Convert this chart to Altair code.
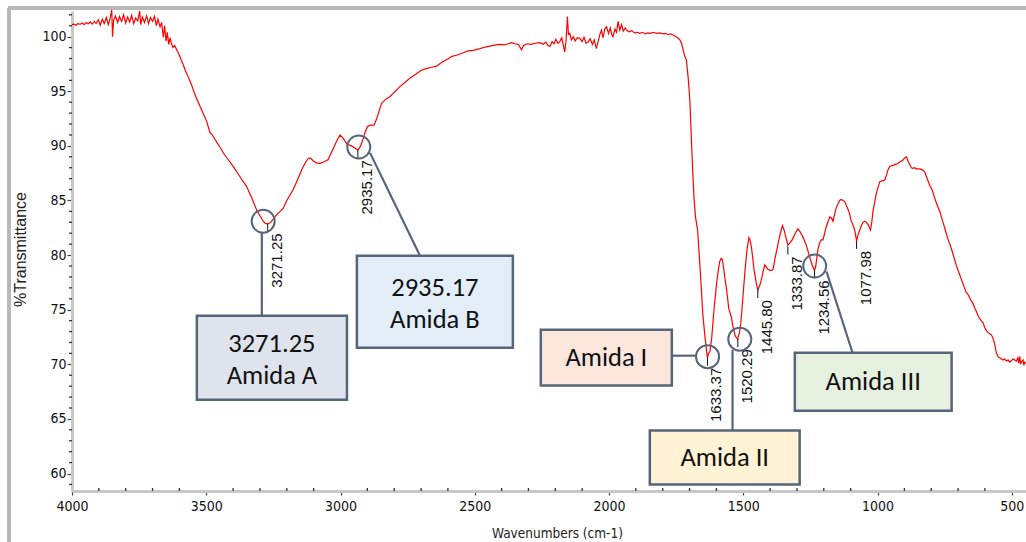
import altair as alt
import pandas as pd

# ---------------- spectrum ----------------
wavenumber = [
    4000, 3992, 3985, 3977, 3970, 3962, 3955, 3947, 3940, 3932, 3925, 3917, 3910, 3902, 3895, 3887,
    3880, 3872, 3865, 3858, 3852, 3849, 3845, 3838, 3830, 3823, 3815, 3808, 3800, 3793, 3785, 3778,
    3770, 3763, 3755, 3748, 3744, 3738, 3730, 3722, 3715, 3708, 3700, 3693, 3686, 3680, 3672, 3666,
    3660, 3655, 3650, 3645, 3640, 3635, 3630, 3624, 3618, 3610, 3600, 3592, 3586, 3578, 3570, 3562,
    3555, 3545, 3535, 3523, 3510, 3498, 3486, 3480, 3470, 3460, 3449, 3435, 3420, 3399, 3375, 3350,
    3330, 3312, 3300, 3288, 3280, 3271.25, 3262, 3250, 3238, 3225, 3213, 3200, 3188, 3176, 3160, 3145,
    3130, 3120, 3113, 3100, 3090, 3077, 3060, 3046, 3030, 3015, 3002, 2990, 2977, 2960, 2946, 2935.17,
    2925, 2915, 2909, 2900, 2890, 2875, 2865, 2855, 2847, 2830, 2816, 2800, 2780, 2760, 2742, 2720,
    2700, 2679, 2660, 2642, 2620, 2600, 2585, 2568, 2545, 2525, 2505, 2481, 2460, 2440, 2420, 2407,
    2390, 2375, 2363, 2350, 2338, 2326, 2318, 2305, 2290, 2275, 2258, 2245, 2235, 2228, 2220, 2212,
    2205, 2198, 2190, 2183, 2176, 2170, 2165, 2160, 2155, 2151, 2146, 2140, 2133, 2126, 2118, 2109,
    2100, 2093, 2086, 2078, 2070, 2062, 2055, 2047, 2040, 2034, 2028, 2022, 2016, 2009, 2002, 1995,
    1990, 1985, 1978, 1972, 1966, 1960, 1953, 1947, 1940, 1935, 1925, 1915, 1905, 1895, 1885, 1875,
    1865, 1855, 1845, 1835, 1823, 1810, 1800, 1790, 1780, 1770, 1761, 1750, 1742, 1736, 1730, 1724,
    1718, 1712, 1705, 1699, 1693, 1687, 1683, 1678, 1670, 1664, 1658, 1651, 1643, 1638, 1633.37, 1629,
    1624, 1618, 1613, 1608, 1603, 1598, 1593, 1588, 1582, 1578, 1573, 1569, 1563, 1558, 1554, 1549,
    1545, 1540, 1536, 1530, 1524, 1520.29, 1517, 1514, 1509, 1504, 1498, 1492, 1486, 1479, 1475, 1470,
    1465, 1460, 1452, 1445.8, 1439, 1433, 1426, 1420, 1414, 1408, 1400, 1395, 1389, 1380, 1370, 1362,
    1354, 1348, 1341, 1333.87, 1327, 1320, 1314, 1308, 1302, 1296, 1290, 1283, 1277, 1270, 1264, 1258,
    1250, 1242, 1234.56, 1230, 1227, 1222, 1216, 1210, 1203, 1197, 1191, 1184, 1178, 1172, 1166, 1160,
    1154, 1147, 1141, 1135, 1128, 1122, 1117, 1110, 1104, 1099, 1092, 1085, 1077.98, 1072, 1066, 1060,
    1054, 1048, 1042, 1035, 1030, 1026, 1021, 1017, 1010, 1004, 998, 992, 985, 979, 973, 967,
    961, 955, 948, 942, 936, 930, 924, 918, 912, 905, 899, 892, 886, 880, 874, 868,
    862, 856, 849, 843, 837, 830, 824, 818, 812, 806, 799, 793, 787, 781, 775, 768,
    762, 756, 750, 744, 738, 731, 725, 719, 713, 707, 700, 694, 688, 682, 676, 670,
    663, 657, 651, 645, 639, 633, 626, 620, 614, 607, 601, 595, 588, 582, 576, 570,
    564, 557, 551, 545, 539, 533, 527, 520, 514, 508, 502, 495, 489, 483, 477, 474,
    470, 467, 464, 458, 455, 452, 448,
]
transmittance = [
    101.10, 101.15, 101.05, 101.20, 101.12, 101.25, 101.10, 101.30, 101.18, 101.35, 101.15, 101.40, 101.20, 101.55, 101.05, 101.60,
    101.20, 101.75, 101.10, 101.70, 102.45, 100.00, 101.50, 101.90, 101.30, 101.85, 101.40, 102.00, 101.25, 101.80, 101.35, 101.95,
    101.20, 101.70, 101.45, 102.35, 101.10, 101.80, 101.30, 101.90, 101.20, 101.75, 101.40, 101.85, 101.00, 101.60, 100.90, 101.30,
    99.95, 101.00, 99.60, 100.40, 99.30, 99.90, 99.40, 99.00, 99.20, 98.80, 98.30, 97.80, 97.45, 96.90, 96.50, 96.00,
    95.60, 94.90, 94.30, 93.60, 92.90, 92.20, 91.20, 91.10, 90.70, 90.30, 89.90, 89.30, 88.80, 88.10, 87.20, 86.30,
    85.20, 84.10, 83.60, 83.10, 82.90, 82.85, 82.95, 83.30, 83.70, 84.00, 84.30, 85.00, 85.50, 86.00, 86.90, 87.80,
    88.50, 88.85, 88.90, 88.60, 88.45, 88.40, 88.55, 88.75, 89.60, 90.40, 91.00, 90.70, 90.20, 90.00, 89.80, 89.60,
    90.00, 90.70, 91.20, 91.75, 91.90, 91.90, 92.50, 93.30, 93.90, 94.30, 94.50, 94.90, 95.40, 95.80, 96.20, 96.55,
    96.90, 97.10, 97.20, 97.30, 97.70, 97.95, 98.20, 98.30, 98.50, 98.70, 98.75, 98.90, 99.05, 99.15, 99.25, 99.30,
    99.25, 99.35, 99.45, 99.35, 99.30, 98.80, 99.20, 99.35, 99.30, 99.40, 99.45, 99.30, 99.50, 99.20, 99.10, 99.55,
    99.35, 99.75, 99.40, 99.55, 99.90, 99.20, 98.60, 99.60, 101.85, 100.20, 100.30, 99.70, 100.00, 99.60, 99.90, 99.85,
    99.55, 99.95, 99.40, 99.50, 99.80, 99.30, 99.70, 98.90, 99.60, 100.20, 100.60, 99.90, 100.70, 100.90, 100.30, 100.80,
    100.20, 100.00, 100.70, 100.40, 101.40, 100.60, 101.10, 100.50, 100.80, 100.60, 100.45, 100.55, 100.35, 100.40, 100.30, 100.40,
    100.25, 100.35, 100.30, 100.40, 100.30, 100.35, 100.25, 100.30, 100.20, 100.25, 100.15, 100.00, 99.85, 99.70, 99.40, 98.80,
    98.20, 97.90, 96.20, 94.20, 90.50, 87.00, 85.10, 83.50, 82.30, 80.00, 77.70, 74.70, 72.60, 71.50, 70.60, 71.00,
    71.20, 72.30, 73.80, 75.30, 76.50, 77.70, 78.60, 79.40, 79.70, 79.60, 78.80, 78.00, 77.00, 76.00, 75.10, 74.70,
    74.40, 73.70, 73.20, 72.60, 72.40, 72.30, 72.70, 72.90, 73.80, 75.30, 77.20, 79.00, 80.50, 81.60, 81.40, 80.80,
    79.80, 78.70, 77.50, 76.80, 77.20, 77.70, 78.50, 79.10, 78.90, 78.70, 78.60, 78.60, 78.70, 79.90, 81.10, 82.00,
    82.70, 82.30, 81.60, 80.90, 81.10, 81.30, 81.60, 81.90, 82.20, 82.40, 82.20, 81.90, 81.60, 81.20, 80.80, 80.30,
    79.60, 79.00, 78.60, 79.00, 79.60, 80.50, 81.10, 81.40, 81.40, 82.00, 82.60, 83.10, 83.50, 83.40, 83.10, 83.70,
    84.30, 84.70, 85.00, 85.10, 85.00, 84.90, 84.60, 84.20, 83.80, 83.20, 82.80, 82.30, 81.30, 81.90, 82.30, 82.70,
    83.00, 83.10, 83.00, 82.80, 82.50, 82.30, 83.10, 84.00, 84.90, 85.70, 86.20, 86.70, 86.80, 86.80, 86.90, 87.30,
    87.80, 88.10, 88.20, 88.20, 88.30, 88.30, 88.40, 88.50, 88.60, 88.70, 88.90, 89.00, 88.60, 88.30, 88.00, 87.95,
    88.00, 87.90, 87.90, 87.90, 87.85, 87.75, 87.60, 87.20, 86.80, 86.40, 86.10, 85.70, 85.20, 84.80, 84.40, 84.00,
    83.50, 83.00, 82.50, 82.00, 81.50, 81.00, 80.60, 80.10, 79.60, 79.10, 78.60, 78.20, 77.80, 77.40, 77.00, 76.60,
    76.40, 76.10, 75.80, 75.60, 75.20, 74.90, 74.50, 74.20, 74.00, 73.80, 73.40, 73.10, 72.90, 72.80, 72.70, 72.40,
    71.90, 71.00, 70.70, 70.60, 70.50, 70.40, 70.50, 70.30, 70.40, 70.20, 70.30, 70.50, 70.40, 70.30, 70.60, 70.10,
    70.70, 70.00, 70.20, 70.40, 69.90, 70.20, 70.10,
]

# ---------------- peak markers ----------------
peak_wn = [3271.25, 2935.17, 1633.37, 1520.29, 1445.80, 1333.87, 1234.56, 1077.98]
peak_t = [82.9, 89.6, 70.6, 72.3, 76.8, 80.8, 78.6, 81.3]
peak_text = ["3271.25", "2935.17", "1633.37", "1520.29", "1445.80", "1333.87", "1234.56", "1077.98"]

# ---------------- annotation callouts ----------------
circle_wn = [3288, 2932, 1633, 1513, 1234]
circle_t = [83.1, 89.9, 70.7, 72.3, 79.0]

box_text = ["3271.25\nAmida A", "2935.17\nAmida B", "Amida I", "Amida II", "Amida III"]
box_lines = [2, 2, 1, 1, 1]
box_x1 = [3535, 2939, 2254, 1848, 1308]
box_x2 = [2976, 2358, 1766, 1290, 724]
box_y1 = [74.45, 79.94, 73.17, 63.93, 71.06]
box_y2 = [66.76, 71.52, 68.05, 58.99, 65.75]
box_fill = ["#dee3ec", "#e3edf8", "#fbe6dc", "#fff2d5", "#e5f0df"]

conn_x1 = [3293, 2890, 1766, 1540, 1190]
conn_y1 = [82.0, 89.36, 70.79, 71.33, 78.5]
conn_x2 = [3293, 2704, 1677, 1540, 1093]
conn_y2 = [74.45, 79.94, 70.79, 63.93, 71.06]

x_major = [4000, 3500, 3000, 2500, 2000, 1500, 1000, 500]
x_minor = [v for v in range(500, 4001, 100) if v % 500]
y_major = [60, 65, 70, 75, 80, 85, 90, 95, 100]
y_minor = [v for v in range(59, 103) if v % 5]

# ---------------- tables ----------------
spec = pd.DataFrame({"w": wavenumber, "t": transmittance})
spec["idx"] = range(len(spec))
peaks = pd.DataFrame({"w": peak_wn, "t": peak_t, "label": peak_text})
circles = pd.DataFrame({"w": circle_wn, "t": circle_t})
boxes = pd.DataFrame({"x1": box_x1, "x2": box_x2, "y1": box_y1, "y2": box_y2,
                      "label": box_text, "fill": box_fill, "n": box_lines})
boxes["xm"] = (boxes.x1 + boxes.x2) / 2
boxes["ym"] = (boxes.y1 + boxes.y2) / 2
conns = pd.DataFrame({"x1": conn_x1, "x2": conn_x2, "y1": conn_y1, "y2": conn_y2})
xminor_df = pd.DataFrame({"w": x_minor})
yminor_df = pd.DataFrame({"t": y_minor})

NARROW = "'Liberation Sans Narrow', 'Arial Narrow', 'DejaVu Sans Condensed', sans-serif"
REG = "'Liberation Sans', Arial, sans-serif"
SLATE = "#56657a"

xs = alt.Scale(domain=[4000, 447], nice=False, zero=False)
ys = alt.Scale(domain=[58.4, 102.35], nice=False, zero=False)

x_axis = alt.Axis(values=x_major, format="d", title="Wavenumbers (cm-1)", orient="bottom",
                  labelFont=NARROW, labelFontSize=14, labelColor="#111", labelFlush=False,
                  labelPadding=4, tickSize=4, tickColor="#444", tickWidth=1.2,
                  domainColor="#c8c8c8", domainWidth=3, grid=False,
                  titleFont=NARROW, titleFontSize=13.5, titleFontWeight="normal", titleColor="#222",
                  titleX=485, titleY=46, titleAlign="center", titleBaseline="alphabetic")
y_axis = alt.Axis(values=y_major, title="%Transmittance", orient="left",
                  labelFont=NARROW, labelFontSize=14, labelColor="#111", labelPadding=1,
                  tickSize=5, tickColor="#444", tickWidth=1.2,
                  domainColor="#c8c8c8", domainWidth=3, grid=False,
                  titleFont=REG, titleFontSize=16, titleFontWeight="normal", titleColor="#222",
                  titleAngle=270, titleX=-47, titleY=238, titleAlign="center",
                  titleBaseline="alphabetic")

line = alt.Chart(spec).mark_line(color="#ff0000", strokeWidth=1.2, interpolate="linear").encode(
    x=alt.X("w:Q", scale=xs, axis=x_axis),
    y=alt.Y("t:Q", scale=ys, axis=y_axis),
    order=alt.Order("idx:Q"),
)

# minor ticks, placed through the scales
x_minor_ticks = alt.Chart(xminor_df).mark_rule(color="#333", strokeWidth=1.3).encode(
    x=alt.X("w:Q", scale=xs, axis=None),
    y=alt.value(477), y2=alt.value(480),
)
y_minor_ticks = alt.Chart(yminor_df).mark_rule(color="#333", strokeWidth=1.3).encode(
    y=alt.Y("t:Q", scale=ys, axis=None),
    x=alt.value(-3), x2=alt.value(0),
)

peak_ticks = alt.Chart(peaks).mark_rule(color="#111", strokeWidth=1, y2Offset=8).encode(
    x=alt.X("w:Q", scale=xs, axis=None),
    y=alt.Y("t:Q", scale=ys, axis=None),
    y2="t:Q",
)
peak_labels = alt.Chart(peaks).mark_text(angle=270, align="right", baseline="top", dx=-10, dy=2,
                                         font=REG, fontSize=15, color="#111").encode(
    x=alt.X("w:Q", scale=xs, axis=None),
    y=alt.Y("t:Q", scale=ys, axis=None),
    text="label:N",
)

connectors = alt.Chart(conns).mark_rule(color=SLATE, strokeWidth=2.2).encode(
    x=alt.X("x1:Q", scale=xs, axis=None), x2="x2:Q",
    y=alt.Y("y1:Q", scale=ys, axis=None), y2="y2:Q",
)
rings = alt.Chart(circles).mark_point(shape="circle", size=530, filled=False, color=SLATE,
                                      strokeWidth=2, opacity=1).encode(
    x=alt.X("w:Q", scale=xs, axis=None),
    y=alt.Y("t:Q", scale=ys, axis=None),
)
rects = alt.Chart(boxes).mark_rect(stroke=SLATE, strokeWidth=2.5).encode(
    x=alt.X("x1:Q", scale=xs, axis=None), x2="x2:Q",
    y=alt.Y("y1:Q", scale=ys, axis=None), y2="y2:Q",
    fill=alt.Fill("fill:N", scale=None),
)


def box_text_layer(n, dy):
    return alt.Chart(boxes).transform_filter(alt.datum.n == n).mark_text(
        font="Carlito, Lato, sans-serif", fontSize=26.5, color="#111",
        lineBreak="\n", lineHeight=32, baseline="middle", align="center", dy=dy,
    ).encode(
        x=alt.X("xm:Q", scale=xs, axis=None),
        y=alt.Y("ym:Q", scale=ys, axis=None),
        text="label:N",
    )


text_two = box_text_layer(2, -14)
text_one = box_text_layer(1, 0)

frame = alt.Chart(circles).mark_rule(color="#b8b8b8", strokeWidth=3).encode(
    x=alt.value(-63), x2=alt.value(-63), y=alt.value(-3), y2=alt.value(540))
frame_top = alt.Chart(circles).mark_rule(color="#b8b8b8", strokeWidth=3).encode(
    x=alt.value(-64), x2=alt.value(960), y=alt.value(-3), y2=alt.value(-3))

chart = alt.layer(
    frame, frame_top, line, x_minor_ticks, y_minor_ticks, peak_ticks, peak_labels,
    connectors, rings, rects, text_two, text_one
).resolve_axis(x="independent", y="independent").properties(
    width=954, height=480,
    padding={"left": 72, "top": 11, "right": 0, "bottom": 51},
    autosize=alt.AutoSizeParams(type="none"),
    background="white",
).configure_view(stroke=None)

chart.save("out.html", embed_options={"renderer": "svg", "actions": False})
